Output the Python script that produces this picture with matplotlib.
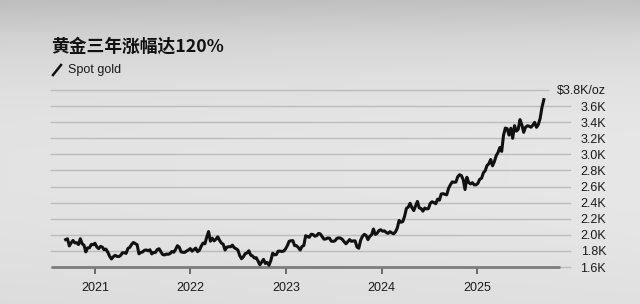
import numpy as np
import pandas as pd
import matplotlib
matplotlib.use("Agg")
import matplotlib.pyplot as plt
from matplotlib.lines import Line2D
from datetime import datetime

# Spot gold, weekly (Friday) values, USD/oz
p2020 = [1940, 1950, 1862, 1900, 1930, 1900, 1902, 1879, 1951, 1889, 1871, 1788,
         1838, 1839, 1881, 1877]
p2021 = [1895, 1850, 1828, 1856, 1848, 1814, 1823, 1784, 1734, 1700, 1727, 1745,
         1733, 1729, 1744, 1777, 1777, 1769, 1831, 1844, 1881, 1905, 1891, 1877,
         1764, 1781, 1787, 1808, 1812, 1802, 1814, 1763, 1780, 1781, 1817, 1827,
         1788, 1754, 1750, 1761, 1757, 1768, 1793, 1783, 1818, 1865, 1846, 1788,
         1783, 1782, 1798, 1811, 1829]
p2022 = [1797, 1817, 1835, 1791, 1808, 1859, 1898, 1889, 1970, 2040, 1921, 1958,
         1925, 1945, 1975, 1932, 1897, 1883, 1811, 1846, 1853, 1851, 1871, 1840,
         1827, 1811, 1742, 1703, 1727, 1766, 1775, 1802, 1747, 1737, 1712, 1716,
         1675, 1628, 1661, 1695, 1644, 1657, 1622, 1681, 1771, 1751, 1755, 1797,
         1797, 1793, 1798, 1824]
p2023 = [1865, 1920, 1926, 1928, 1865, 1865, 1842, 1811, 1855, 1868, 1989, 1978,
         1969, 2007, 2004, 1983, 1990, 2017, 2011, 1977, 1946, 1948, 1961, 1958,
         1921, 1919, 1925, 1955, 1962, 1959, 1943, 1914, 1889, 1915, 1940, 1919,
         1924, 1925, 1849, 1833, 1932, 1981, 2006, 1992, 1940, 1981, 2001, 2072,
         2005, 2019, 2053, 2063]
p2024 = [2045, 2049, 2029, 2018, 2039, 2024, 2013, 2036, 2083, 2179, 2156, 2165,
         2230, 2329, 2344, 2392, 2337, 2301, 2360, 2415, 2334, 2327, 2294, 2333,
         2322, 2326, 2391, 2411, 2400, 2386, 2443, 2431, 2507, 2512, 2503, 2497,
         2577, 2622, 2658, 2653, 2656, 2721, 2747, 2736, 2685, 2563, 2715, 2650,
         2633, 2648, 2622, 2621]
p2025 = [2640, 2690, 2703, 2770, 2798, 2861, 2883, 2936, 2858, 2910, 2984, 3023,
         3085, 3037, 3237, 3327, 3319, 3240, 3325, 3200, 3357, 3289, 3310, 3432,
         3368, 3274, 3337, 3355, 3350, 3337, 3363, 3398, 3336, 3371, 3448, 3586,
         3680]

prices = p2020 + p2021 + p2022 + p2023 + p2024 + p2025
dates = pd.date_range("2020-09-11", periods=len(prices), freq="W-FRI")

ytick_vals = [1600, 1800, 2000, 2200, 2400, 2600, 2800, 3000, 3200, 3400, 3600, 3800]
ytick_labels = ["1.6K", "1.8K", "2.0K", "2.2K", "2.4K", "2.6K", "2.8K", "3.0K",
                "3.2K", "3.4K", "3.6K", "$3.8K/oz"]
xtick_years = [2021, 2022, 2023, 2024, 2025]

title = "黄金三年涨幅达120%"
legend_label = "Spot gold"

fig = plt.figure(figsize=(6.4, 3.04), dpi=100)

# brushed gray background
bg = fig.add_axes([0, 0, 1, 1], zorder=-10)
rows = np.array([0.76, 0.84, 0.88, 0.90, 0.905, 0.905, 0.90, 0.89, 0.88])
grad = np.interp(np.linspace(0, 1, 304), np.linspace(0, 1, len(rows)), rows)
img = np.tile(grad[:, None], (1, 640))
img = img - 0.015 * np.linspace(1, 0, 640)[None, :]
bg.imshow(np.dstack([img, img, img]), aspect="auto", extent=[0, 1, 0, 1])
bg.axis("off")

ax = fig.add_axes([51 / 640, 37 / 304, 519 / 640, 177 / 304])
ax.patch.set_alpha(0)
for s in ax.spines.values():
    s.set_visible(False)

x0 = datetime(2020, 7, 17)
x1 = datetime(2025, 12, 21)
ax.set_xlim(x0, x1)
ax.set_ylim(1600, 3800)

for v in ytick_vals:
    # top line stops short of the unit label
    xmax = 0.957 if v == ytick_vals[-1] else 1.0
    ax.axhline(v, xmax=xmax, color="#bcbcbc", lw=1.0, zorder=1, clip_on=False)
# darker baseline
ax.plot([x0, datetime(2025, 11, 14)], [1600, 1600], color="#7d7d7d", lw=2.0,
        zorder=2, clip_on=False, solid_capstyle="butt")

ax.plot(dates, prices, color="#111111", lw=2.2, zorder=3, solid_joinstyle="round")

ax.set_yticks(ytick_vals)
ax.set_yticklabels(ytick_labels)
ax.yaxis.tick_right()
ax.tick_params(axis="y", length=0, pad=26, labelsize=9, labelcolor="#1a1a1a")
for lab in ax.get_yticklabels():
    lab.set_horizontalalignment("right")
    lab.set_fontfamily("Liberation Sans")

ax.set_xticks([datetime(y, 1, 1) for y in xtick_years])
ax.set_xticklabels([str(y) for y in xtick_years])
ax.tick_params(axis="x", length=5, width=1.2, color="#555555", pad=6,
               labelsize=9, labelcolor="#1a1a1a")
for lab in ax.get_xticklabels():
    lab.set_fontfamily("Liberation Sans")

fig.text(51 / 640, 1 - 47 / 304, title, fontsize=12.8, fontweight="bold",
         family=["Noto Sans CJK SC", "DejaVu Sans"], va="center", ha="left",
         color="#111111")
fig.add_artist(Line2D([53 / 640, 61 / 640], [1 - 75 / 304, 1 - 65 / 304],
                      color="#111111", lw=1.8, transform=fig.transFigure))
fig.text(68 / 640, 1 - 70 / 304, legend_label, fontsize=9, family="Liberation Sans",
         va="center", ha="left", color="#1a1a1a")

fig.savefig("out.png", dpi=100)
